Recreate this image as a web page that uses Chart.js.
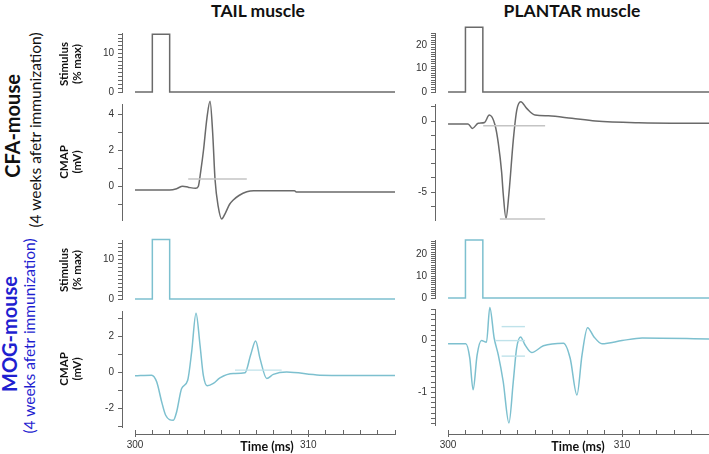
<!DOCTYPE html>
<html>
<head>
<meta charset="utf-8">
<script src="https://cdn.jsdelivr.net/npm/chart.js@4.4.1/dist/chart.umd.min.js"></script>
<style>
  html, body { margin: 0; padding: 0; background: #fff; overflow: hidden; }
  #fig { position: relative; width: 709px; height: 454px; font-family: Lato, "Liberation Sans", sans-serif; }
  canvas { position: absolute; }
  .txt { position: absolute; white-space: nowrap; text-align: center; line-height: 1.15; color: #111; }
  .rot { transform: translate(-50%, -50%) rotate(-90deg); }
  .hor { transform: translate(-50%, -50%); }
</style>
</head>
<body>
<div id="fig"></div>
<script>
// time axis (ms)
const timeLabels = [300, 310];

// stimulus pulses (% max)
const stimT = [300, 301, 301, 302, 302, 315];
const stimCfaTail = [0, 0, 15, 15, 0, 0];
const stimCfaPlantar = [0, 0, 27.5, 27.5, 0, 0];
const stimMogTail = [0, 0, 15, 15, 0, 0];
const stimMogPlantar = [0, 0, 26.5, 26.5, 0, 0];

// CMAP traces (mV)
const cfaTailT = [300, 301, 302, 302.4, 302.75, 303.1, 303.5, 303.65, 303.8, 303.95, 304.15, 304.33, 304.48, 304.62, 304.8, 305.0, 305.2, 305.45, 305.67, 306.0, 306.45, 306.85, 309.2, 309.3, 315];
const cfaTailV = [-0.2, -0.19, -0.19, -0.12, 0.02, -0.05, -0.1, 0.0, 0.9, 2.0, 3.8, 4.73, 3.0, 0.36, -1.1, -1.8, -1.5, -1.0, -0.75, -0.5, -0.29, -0.23, -0.23, -0.3, -0.3];
const cfaTailMarkT = [303.07, 306.45];
const cfaTailMarkV = [0.42, 0.42];

const cfaPlantarT = [300, 301.15, 301.4, 301.73, 302.1, 302.37, 302.7, 302.89, 303.08, 303.17, 303.33, 303.5, 303.75, 303.95, 304.18, 304.52, 305.0, 305.77, 307.12, 308.47, 310.96, 315];
const cfaPlantarV = [-0.2, -0.2, -0.52, -0.16, -0.1, 0.42, -0.28, -1.57, -3.6, -5.1, -6.85, -5.1, -1.34, 0.77, 1.36, 0.89, 0.42, 0.37, 0.19, 0.0, -0.12, -0.16];
const cfaPlantarMarkAT = [302.02, 305.58];
const cfaPlantarMarkAV = [-0.33, -0.33];
const cfaPlantarMarkBT = [302.98, 305.58];
const cfaPlantarMarkBV = [-6.9, -6.9];

const mogTailT = [300, 300.96, 301.25, 301.54, 301.77, 302.21, 302.4, 302.69, 303.04, 303.27, 303.52, 303.75, 303.94, 304.17, 304.52, 304.9, 305.67, 306.35, 306.67, 306.96, 307.21, 307.6, 307.98, 308.75, 310.67, 315];
const mogTailV = [-0.19, -0.15, -0.52, -1.63, -2.37, -2.65, -2.19, -0.89, -0.43, 1.15, 3.28, 1.52, -0.15, -0.74, -0.61, -0.3, -0.06, -0.02, 0.96, 1.74, 0.78, -0.33, -0.11, 0.02, -0.15, -0.17];
const mogTailMarkT = [305.77, 308.46];
const mogTailMarkV = [0.13, 0.13];

const mogPlantarT = [300, 301.02, 301.25, 301.44, 301.67, 301.92, 302.21, 302.4, 302.65, 302.89, 303.17, 303.5, 303.75, 303.94, 304.17, 304.42, 304.81, 305.48, 306.64, 307.02, 307.41, 307.7, 308.02, 308.37, 308.85, 310.0, 311.16, 315];
const mogPlantarV = [-0.06, -0.06, -0.34, -0.95, -0.28, 0.0, -0.03, 0.64, 0.05, -0.28, -0.79, -1.59, -0.79, -0.15, 0.07, -0.08, -0.23, -0.1, -0.05, -0.34, -1.05, -0.28, 0.25, 0.08, -0.06, 0.0, 0.05, 0.03];
const mogPlantarMarkAT = [303.08, 304.42];
const mogPlantarMarkAV = [0.27, 0.27];
const mogPlantarMarkBT = [302.7, 304.42];
const mogPlantarMarkBV = [0.0, 0.0];
const mogPlantarMarkCT = [303.08, 304.42];
const mogPlantarMarkCV = [-0.3, -0.3];

const GRAY = '#6a6a6a';
const CYAN = '#7dc0cf';
const MARK_GRAY = '#c4c4c4';
const MARK_CYAN = '#bfe2ea';
const AXIS = '#666';

const fig = document.getElementById('fig');

function pts(ts, vs) {
  return ts.map((t, i) => ({ x: t, y: vs[i] }));
}

function trace(ts, vs, color, smooth) {
  return {
    data: pts(ts, vs), borderColor: color, borderWidth: 1.5,
    pointRadius: 0, fill: false, clip: false,
    cubicInterpolationMode: smooth ? 'monotone' : 'default', tension: 0
  };
}

function mark(ts, vs, color) {
  return { data: pts(ts, vs), borderColor: color, borderWidth: 1.4, pointRadius: 0, fill: false, clip: false, tension: 0 };
}

function addCanvas(left, top, w, h) {
  const c = document.createElement('canvas');
  c.width = w; c.height = h;
  c.style.left = left + 'px'; c.style.top = top + 'px';
  c.style.width = w + 'px'; c.style.height = h + 'px';
  fig.appendChild(c);
  return c;
}

// one panel: y axis line at axisX, plot area from top to bottom
function panel(axisX, right, top, bottom, yMin, yMax, step, labelEvery, datasets) {
  const yw = 40, pad = 8;
  const c = addCanvas(axisX - yw, top - pad, right - (axisX - yw), bottom - top + 2 * pad);
  new Chart(c, {
    type: 'line',
    data: { datasets: datasets },
    options: {
      responsive: false, animation: false,
      layout: { padding: { top: pad, bottom: pad, left: 0, right: 0 } },
      plugins: { legend: { display: false }, tooltip: { enabled: false } },
      scales: {
        x: { type: 'linear', min: 299.25, max: 315, display: false },
        y: {
          min: yMin, max: yMax,
          border: { display: true, color: AXIS, width: 1 },
          grid: { drawOnChartArea: false, drawTicks: true, tickLength: 4, tickColor: AXIS },
          ticks: {
            stepSize: step, includeBounds: false, autoSkip: false, maxTicksLimit: 300,
            color: '#333', padding: 4, font: { family: 'Liberation Sans', size: 10 },
            callback: v => {
              const r = v / labelEvery;
              return Math.abs(r - Math.round(r)) < 1e-6 ? String(Math.round(v)) : '';
            }
          },
          afterFit: s => { s.width = yw; s.paddingTop = 0; s.paddingBottom = 0; }
        }
      }
    }
  });
}

function timeAxis(left, right, axisY) {
  const padL = 10, inner = 4, axH = 18;
  const padR = right >= 709 ? 0 : 10;
  const c = addCanvas(left - padL, axisY - inner, right - left + padL + padR, inner + axH);
  new Chart(c, {
    type: 'line',
    data: { datasets: [] },
    options: {
      responsive: false, animation: false,
      layout: { padding: { top: 0, bottom: 0, left: padL, right: padR } },
      plugins: { legend: { display: false }, tooltip: { enabled: false } },
      scales: {
        y: { display: false, min: 0, max: 1 },
        x: {
          type: 'linear', min: 300, max: 315,
          border: { display: true, color: AXIS, width: 1 },
          grid: {
            drawOnChartArea: true, color: AXIS, drawTicks: true, tickLength: 3,
            tickColor: ctx => timeLabels.includes(ctx.tick && ctx.tick.value) ? AXIS : 'rgba(0,0,0,0)'
          },
          ticks: {
            stepSize: 1, autoSkip: false, maxRotation: 0, padding: 2,
            color: '#333', font: { family: 'Liberation Sans', size: 10 },
            callback: v => timeLabels.includes(v) ? String(v) : ''
          },
          afterFit: s => { s.height = axH; s.paddingLeft = 0; s.paddingRight = 0; }
        }
      }
    }
  });
}

// CFA row
panel(122, 395, 33, 92, 0, 15.3, 1, 10, [trace(stimT, stimCfaTail, GRAY, false)]);
panel(122, 395, 104, 220, -1.86, 4.58, 1, 2, [
  mark(cfaTailMarkT, cfaTailMarkV, MARK_GRAY),
  trace(cfaTailT, cfaTailV, GRAY, true)
]);
panel(435, 709, 33, 92, 0, 25.1, 1, 10, [trace(stimT, stimCfaPlantar, GRAY, false)]);
panel(435, 709, 104, 220, -6.97, 1.2, 1, 5, [
  mark(cfaPlantarMarkAT, cfaPlantarMarkAV, MARK_GRAY),
  mark(cfaPlantarMarkBT, cfaPlantarMarkBV, MARK_GRAY),
  trace(cfaPlantarT, cfaPlantarV, GRAY, true)
]);

// MOG row
panel(122, 395, 240, 299, 0, 14.86, 1, 10, [trace(stimT, stimMogTail, CYAN, false)]);
panel(122, 395, 311, 427, -3.02, 3.4, 1, 2, [
  mark(mogTailMarkT, mogTailMarkV, MARK_CYAN),
  trace(mogTailT, mogTailV, CYAN, true)
]);
panel(435, 709, 240, 298, 0, 26.5, 1, 10, [trace(stimT, stimMogPlantar, CYAN, false)]);
panel(435, 709, 309, 425, -1.63, 0.61, 0.1, 1, [
  mark(mogPlantarMarkAT, mogPlantarMarkAV, MARK_CYAN),
  mark(mogPlantarMarkBT, mogPlantarMarkBV, MARK_CYAN),
  mark(mogPlantarMarkCT, mogPlantarMarkCV, MARK_CYAN),
  trace(mogPlantarT, mogPlantarV, CYAN, true)
]);

timeAxis(135, 395, 434);
timeAxis(448, 709, 434);

// text
function label(html, x, y, size, weight, color, rot) {
  const d = document.createElement('div');
  d.className = 'txt ' + (rot ? 'rot' : 'hor');
  d.innerHTML = html;
  d.style.left = x + 'px'; d.style.top = y + 'px';
  d.style.fontSize = size + 'px'; d.style.fontWeight = weight;
  if (color) d.style.color = color;
  fig.appendChild(d);
}
label('TAIL muscle', 258, 11, 17.5, 700, '#111', false);
label('PLANTAR muscle', 572, 11, 17.5, 700, '#111', false);
label('CFA-mouse', 12, 126, 20, 700, '#111', true);
label('(4 weeks afetr immunization)', 36, 130, 15.5, 400, '#111', true);
label('MOG-mouse', 9, 334, 20, 700, '#1f1fd0', true);
label('(4 weeks afetr immunization)', 30, 336, 15.5, 400, '#1f1fd0', true);
label('Stimulus<br>(% max)', 70, 64, 11.5, 700, '#111', true);
label('CMAP<br>(mV)', 70, 162, 11.5, 700, '#111', true);
label('Stimulus<br>(% max)', 70, 270, 11.5, 700, '#111', true);
label('CMAP<br>(mV)', 70, 369, 11.5, 700, '#111', true);
label('Time (ms)', 267, 447, 12.5, 700, '#111', false);
label('Time (ms)', 578, 447, 12.5, 700, '#111', false);
</script>
</body>
</html>
